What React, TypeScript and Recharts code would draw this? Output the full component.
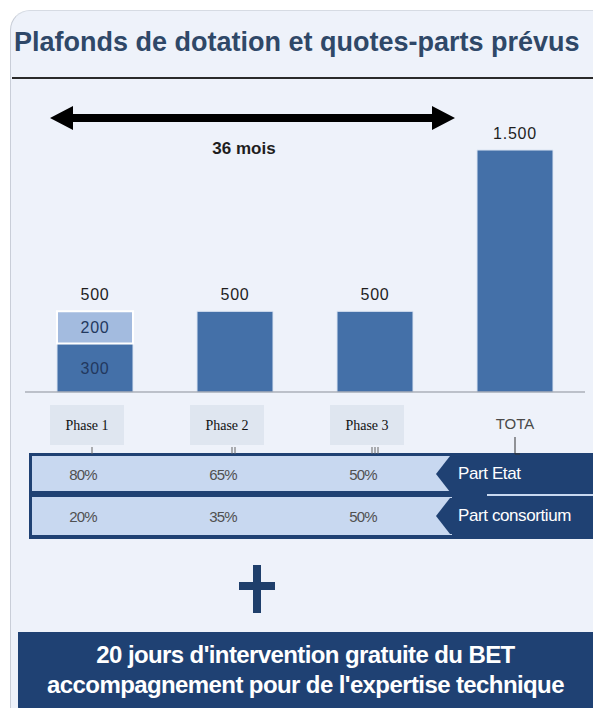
import React from "react"
import { BarChart, Bar, XAxis, YAxis, LabelList } from "recharts"

const categories = ["Phase 1", "Phase 2", "Phase 3", "TOTA"]
const baseValues = [300, 500, 500, 1500]
const topValues = [200, 0, 0, 0]
const totalLabels = ["500", "500", "500", "1.500"]
const partEtat = ["80%", "65%", "50%"]
const partConsortium = ["20%", "35%", "50%"]

const NAVY = "#1f4173"
const BAR_DARK = "#4470a8"
const BAR_LIGHT = "#a3bbdf"
const SANS = "'Liberation Sans', Arial, sans-serif"
const SERIF = "'Liberation Serif', 'Times New Roman', serif"

const data = categories.map((name, i) => ({
  name,
  base: baseValues[i],
  top: topValues[i],
}))

function BaseLabel(props: any) {
  const { x, y, width, height, index } = props
  const cx = x + width / 2
  if (index === 0) {
    return (
      <text x={cx} y={y + height / 2 + 6} textAnchor="middle" fontSize={16} letterSpacing={0.8} fontFamily={SANS} fill="#22385e">
        {baseValues[0]}
      </text>
    )
  }
  return (
    <text x={cx} y={y - 11} textAnchor="middle" fontSize={16} letterSpacing={0.8} fontFamily={SANS} fill="#1e1e1e">
      {totalLabels[index]}
    </text>
  )
}

function TopLabel(props: any) {
  const { x, y, width, height, index } = props
  if (index !== 0) return null
  const cx = x + width / 2
  return (
    <g>
      <text x={cx} y={y + height / 2 + 6} textAnchor="middle" fontSize={16} letterSpacing={0.8} fontFamily={SANS} fill="#22385e">
        {topValues[0]}
      </text>
      <text x={cx} y={y - 11} textAnchor="middle" fontSize={16} letterSpacing={0.8} fontFamily={SANS} fill="#1e1e1e">
        {totalLabels[0]}
      </text>
    </g>
  )
}

function CategoryTick(props: any) {
  const { x, y, payload, index } = props
  const label = payload.value
  if (index === 3) {
    return (
      <g>
        <text x={x} y={y + 37} textAnchor="middle" fontSize={15} fontFamily={SANS} fill="#4a4a4a">
          {label}
        </text>
        <line x1={x} x2={x} y1={y + 45} y2={y + 62} stroke="#333" />
        <line x1={x} x2={x + 5} y1={y + 62} y2={y + 62} stroke="#333" />
      </g>
    )
  }
  const bx = x - 45
  const by = y + 13
  return (
    <g>
      <rect x={bx} y={by} width={74} height={40} fill="#dfe6f0" />
      <text x={bx + 37} y={by + 25} textAnchor="middle" fontSize={14} fontFamily={SERIF} fill="#111">
        {label}
      </text>
      {Array.from({ length: index + 1 }).map((_, k) => (
        <line key={k} x1={x - 3 + k * 3} x2={x - 3 + k * 3} y1={y + 55} y2={y + 62} stroke="#666" />
      ))}
      <text x={x - 12} y={y + 88} textAnchor="middle" fontSize={15} fontFamily={SANS} fill="#505050" letterSpacing={-0.8}>
        {partEtat[index]}
      </text>
      <text x={x - 12} y={y + 130} textAnchor="middle" fontSize={15} fontFamily={SANS} fill="#505050" letterSpacing={-0.8}>
        {partConsortium[index]}
      </text>
    </g>
  )
}

function Chevron({ top, label }: { top: number; label: string }) {
  return (
    <div
      style={{
        position: "absolute",
        left: 436,
        top,
        width: 160,
        height: 36,
        background: NAVY,
        clipPath: "polygon(14px 0, 100% 0, 100% 100%, 14px 100%, 0 50%)",
        color: "#fff",
        fontFamily: SANS,
        fontSize: 17,
        letterSpacing: -0.4,
        lineHeight: "36px",
        paddingLeft: 22,
        boxSizing: "border-box",
        whiteSpace: "nowrap",
      }}
    >
      {label}
    </div>
  )
}

export default function App() {
  return (
    <div style={{ position: "absolute", left: 0, top: 0, width: 593, height: 708, background: "#fff", overflow: "hidden" }}>
      <div
        style={{
          position: "absolute",
          left: 10,
          top: 10,
          width: 620,
          height: 740,
          background: "#eef2fa",
          borderRadius: 20,
          borderLeft: "1px solid #c9ced8",
          borderTop: "1px solid #d6dbe3",
        }}
      />
      <div
        style={{
          position: "absolute",
          left: 14,
          top: 27,
          fontFamily: SANS,
          fontWeight: "bold",
          fontSize: 27,
          letterSpacing: 0,
          color: "#2f4868",
          whiteSpace: "nowrap",
        }}
      >
        Plafonds de dotation et quotes-parts prévus
      </div>
      <div style={{ position: "absolute", left: 12, top: 77, width: 590, height: 2, background: "#2a2a2a" }} />

      {/* 36 months arrow */}
      <svg style={{ position: "absolute", left: 0, top: 0 }} width={593} height={170}>
        <polygon points="50,118 73,106 73,114 432,114 432,106 455,118 432,130 432,122 73,122 73,130" fill="#000" />
        <text x={244} y={154} textAnchor="middle" fontSize={17} fontWeight="bold" fontFamily={SANS} fill="#1e1e1e">
          36 mois
        </text>
      </svg>

      {/* share table frame */}
      <div style={{ position: "absolute", left: 29, top: 453, width: 580, height: 86, background: NAVY }} />
      <div style={{ position: "absolute", left: 32, top: 456, width: 420, height: 35, background: "#c8d8f0" }} />
      <div style={{ position: "absolute", left: 32, top: 497, width: 420, height: 38, background: "#c8d8f0" }} />
      <Chevron top={456} label="Part Etat" />
      <Chevron top={498} label="Part consortium" />
      <div style={{ position: "absolute", left: 487, top: 494, width: 110, height: 2, background: "#c8d8f0" }} />

      <div style={{ position: "absolute", left: 0, top: 0 }}>
        <BarChart width={593} height={545} data={data} margin={{ top: 150, right: 8, left: 25, bottom: 0 }}>
          <YAxis width={0} domain={[0, 1500]} tick={false} axisLine={{ stroke: "#9aa0aa" }} tickLine={false} />
          <XAxis
            dataKey="name"
            height={153}
            tickSize={0}
            tickMargin={0}
            axisLine={{ stroke: "#8a8f99" }}
            tickLine={false}
            interval={0}
            tick={<CategoryTick />}
          />
          <Bar dataKey="base" stackId="a" fill={BAR_DARK} stroke="#dbe5f3" strokeWidth={1} barSize={76} isAnimationActive={false}>
            <LabelList dataKey="base" content={<BaseLabel />} />
          </Bar>
          <Bar dataKey="top" stackId="a" fill={BAR_LIGHT} stroke="#ffffff" strokeWidth={2} barSize={76} isAnimationActive={false}>
            <LabelList dataKey="top" content={<TopLabel />} />
          </Bar>
        </BarChart>
      </div>

      {/* plus sign */}
      <div style={{ position: "absolute", left: 253, top: 565, width: 8, height: 48, background: "#1f3f6b" }} />
      <div style={{ position: "absolute", left: 239, top: 582, width: 36, height: 8, background: "#1f3f6b" }} />

      {/* bottom banner */}
      <div
        style={{
          position: "absolute",
          left: 18,
          top: 632,
          width: 600,
          height: 90,
          background: NAVY,
          borderBottomLeftRadius: 16,
        }}
      />
      <div
        style={{
          position: "absolute",
          left: 18,
          top: 640,
          width: 575,
          textAlign: "center",
          color: "#fff",
          fontFamily: SANS,
          fontWeight: "bold",
          fontSize: 24,
          lineHeight: "30px",
          letterSpacing: -0.6,
          whiteSpace: "nowrap",
        }}
      >
        20 jours d'intervention gratuite du BET
        <br />
        accompagnement pour de l'expertise technique
      </div>
    </div>
  )
}
